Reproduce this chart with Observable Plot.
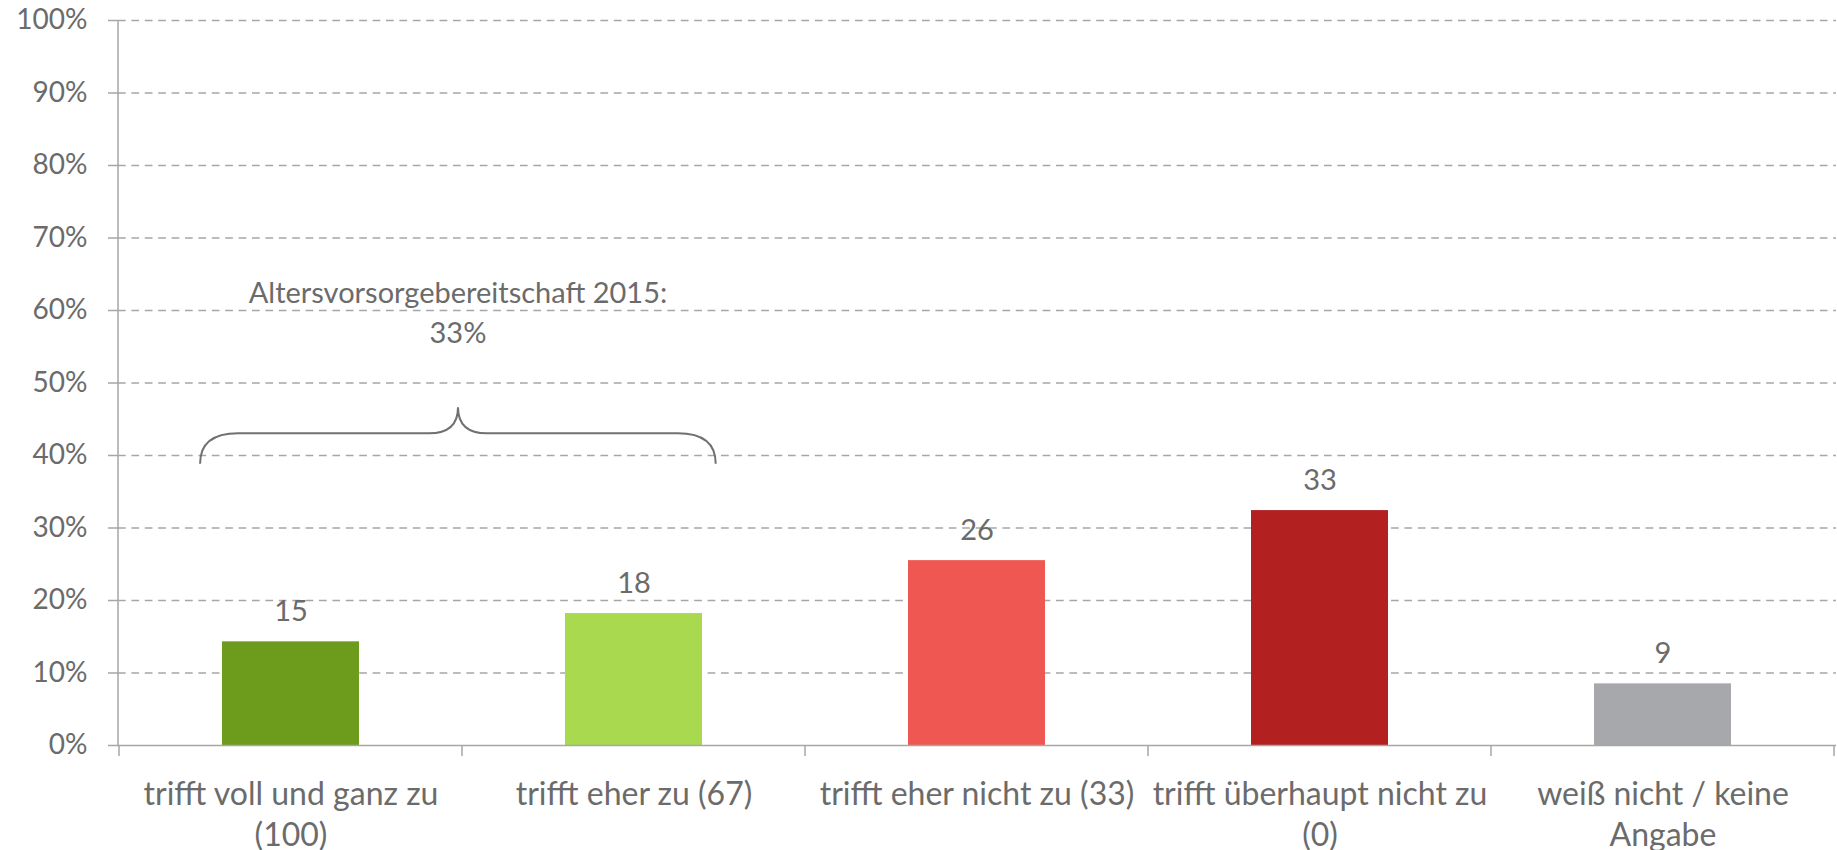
<!DOCTYPE html>
<html>
<head>
<meta charset="utf-8">
<script src="https://cdn.jsdelivr.net/npm/d3@7"></script>
<script src="https://cdn.jsdelivr.net/npm/@observablehq/plot@0.6"></script>
<style>
  html, body { margin: 0; padding: 0; background: #ffffff; }
  svg { display: block; }
</style>
</head>
<body>
<div id="chart"></div>
<script>
const categories = [
  "trifft voll und ganz zu (100)",
  "trifft eher zu (67)",
  "trifft eher nicht zu (33)",
  "trifft überhaupt nicht zu (0)",
  "weiß nicht / keine Angabe"
];
const tickLabels = [
  "trifft voll und ganz zu\n(100)",
  "trifft eher zu (67)",
  "trifft eher nicht zu (33)",
  "trifft überhaupt nicht zu\n(0)",
  "weiß nicht / keine\nAngabe"
];
const values = [14.3, 18.2, 25.5, 32.4, 8.5];
const valueLabels = ["15", "18", "26", "33", "9"];
const colors = ["#6d9b1b", "#a9d94e", "#ef5753", "#b22020", "#a7a8ab"];
const yTicks = [0, 10, 20, 30, 40, 50, 60, 70, 80, 90, 100];
const annotationLines = ["Altersvorsorgebereitschaft 2015:", "33%"];
const annotationY = [60.9, 55.5];          // baselines of the two annotation lines (in %)
const braceLevels = [38.8, 43.0, 46.6];    // brace: tips, shoulder, peak (in %)

const textColor = "#6b6b6b";
const lineColor = "#a6a6a6";

const data = categories.map((c, i) => ({category: c, value: values[i], label: valueLabels[i]}));

function overlay(index, scales) {
  const x = scales.x, y = scales.y;
  const bw = x.bandwidth();
  const step = x(categories[1]) - x(categories[0]);
  const outer = (step - bw) / 2;
  const [r0] = x.range();
  const g = d3.create("svg:g");
  // y axis line
  g.append("line")
    .attr("x1", r0).attr("x2", r0)
    .attr("y1", y(100)).attr("y2", y(0))
    .attr("stroke", lineColor).attr("stroke-width", 1.5);
  // x boundary ticks
  const bounds = categories.map(c => x(c) - outer).concat([x(categories[categories.length - 1]) + bw + outer]);
  for (const b of bounds) {
    g.append("line")
      .attr("x1", b).attr("x2", b)
      .attr("y1", y(0)).attr("y2", y(0) + 11)
      .attr("stroke", lineColor).attr("stroke-width", 1.5);
  }
  // brace spanning first two categories
  const xl = x(categories[0]) - 0.16 * bw;
  const xr = x(categories[1]) + bw * 1.1;
  const xm = (x(categories[0]) + x(categories[1]) + bw) / 2 - 4;
  const yT = y(braceLevels[0]), yS = y(braceLevels[1]), yP = y(braceLevels[2]);
  const rx = 38, rm = 29;
  const path = `M${xl},${yT} Q${xl},${yS} ${xl + rx},${yS} L${xm - rm},${yS} Q${xm},${yS} ${xm},${yP}` +
               ` Q${xm},${yS} ${xm + rm},${yS} L${xr - rx},${yS} Q${xr},${yS} ${xr},${yT}`;
  g.append("path").attr("d", path).attr("fill", "none")
    .attr("stroke", "#707070").attr("stroke-width", 2);
  // annotation text
  annotationLines.forEach((t, i) => {
    g.append("text")
      .attr("x", xm).attr("y", y(annotationY[i]))
      .attr("text-anchor", "middle")
      .attr("fill", textColor)
      .attr("font-size", 29)
      .text(t);
  });
  return g.node();
}

const chart = Plot.plot({
  width: 1837,
  height: 850,
  marginLeft: 118,
  marginRight: 1,
  marginTop: 20,
  marginBottom: 105,
  style: {fontFamily: "Lato, 'Open Sans', sans-serif", fontSize: "28px", color: textColor, background: "#ffffff", overflow: "visible"},
  x: {domain: categories, paddingInner: 0.6, paddingOuter: 0.3, label: null},
  y: {domain: [0, 100], label: null},
  color: {domain: categories, range: colors},
  marks: [
    Plot.ruleY(yTicks.filter(d => d > 0), {stroke: lineColor, strokeWidth: 1.5, strokeDasharray: "7.7,5.7"}),
    Plot.axisY({ticks: yTicks, tickFormat: d => d + "%", tickSize: 10, tickPadding: 21, stroke: lineColor, strokeWidth: 1.5, fill: textColor, fontSize: 28, label: null}),
    Plot.axisX({tickSize: 0, tickPadding: 31, tickFormat: d => tickLabels[categories.indexOf(d)], lineHeight: 1.27, fontSize: 32, fill: textColor, label: null}),
    Plot.barY(data, {x: "category", y: "value", fill: "category"}),
    Plot.ruleY([0], {stroke: lineColor, strokeWidth: 1.5}),
    Plot.text(data, {x: "category", y: "value", text: "label", lineAnchor: "bottom", dy: -21, fontSize: 29, fill: textColor}),
    overlay
  ]
});
document.getElementById("chart").appendChild(chart);
</script>
</body>
</html>
